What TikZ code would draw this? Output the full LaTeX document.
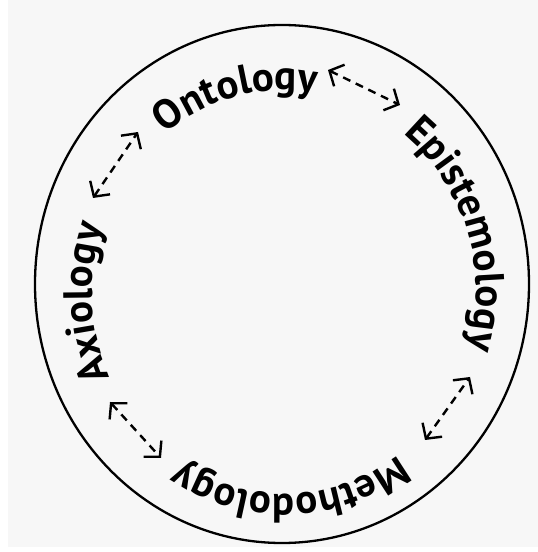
\documentclass[tikz,border=0pt]{standalone}
\usepackage{fontspec}
\setmainfont{PT Sans}
\usetikzlibrary{decorations.text,arrows.meta}
\newcommand{\ringword}{\bfseries\fontsize{41}{46}\selectfont}

\begin{document}
\begin{tikzpicture}[
    x=1pt,y=1pt,
    ring/.style={draw=black,line width=2.3pt},
    word/.style={decorate,decoration={text along path,text align=center,text={|\ringword|#1}}},
    link/.style={<->,line width=2.4pt,dash pattern=on 8pt off 6pt},
    >={Straight Barb[length=11pt,width=24pt,line width=2.4pt]}
  ]
  \useasboundingbox (0,0) rectangle (538,552);
  \fill[white] (0,0) rectangle (538,552);
  \fill[black!3] (8,5) rectangle (538,552);

  \coordinate (oc) at (282,268);
  \coordinate (tc) at (284,260);
  \draw[ring] (oc) ellipse[x radius=247pt,y radius=259pt];

  % Words
  \path[word=Ontology] ([shift={(tc)}]154:192pt and 202pt)
    arc[start angle=154,end angle=54,x radius=192pt,y radius=202pt];
  \path[word=Epistemology] ([shift={(tc)}]70:192pt and 202pt)
    arc[start angle=70,end angle=-34,x radius=192pt,y radius=202pt];
  \path[word=Methodology] ([shift={(tc)}]-38:192pt and 202pt)
    arc[start angle=-38,end angle=-138,x radius=192pt,y radius=202pt];
  \path[word=Axiology] ([shift={(tc)}]233:192pt and 202pt)
    arc[start angle=233,end angle=133,x radius=192pt,y radius=202pt];

  % Links
  \coordinate (oe1) at (328,482);
  \coordinate (oe2) at (400,447);
  \coordinate (me1) at (425,112);
  \coordinate (me2) at (470,175);
  \coordinate (am1) at (110,150);
  \coordinate (am2) at (161,94);
  \coordinate (ao1) at (93,354);
  \coordinate (ao2) at (138,420);
  \draw[link] (oe1) -- (oe2);
  \draw[link] (me1) -- (me2);
  \draw[link] (am1) -- (am2);
  \draw[link] (ao1) -- (ao2);
\end{tikzpicture}
\end{document}
